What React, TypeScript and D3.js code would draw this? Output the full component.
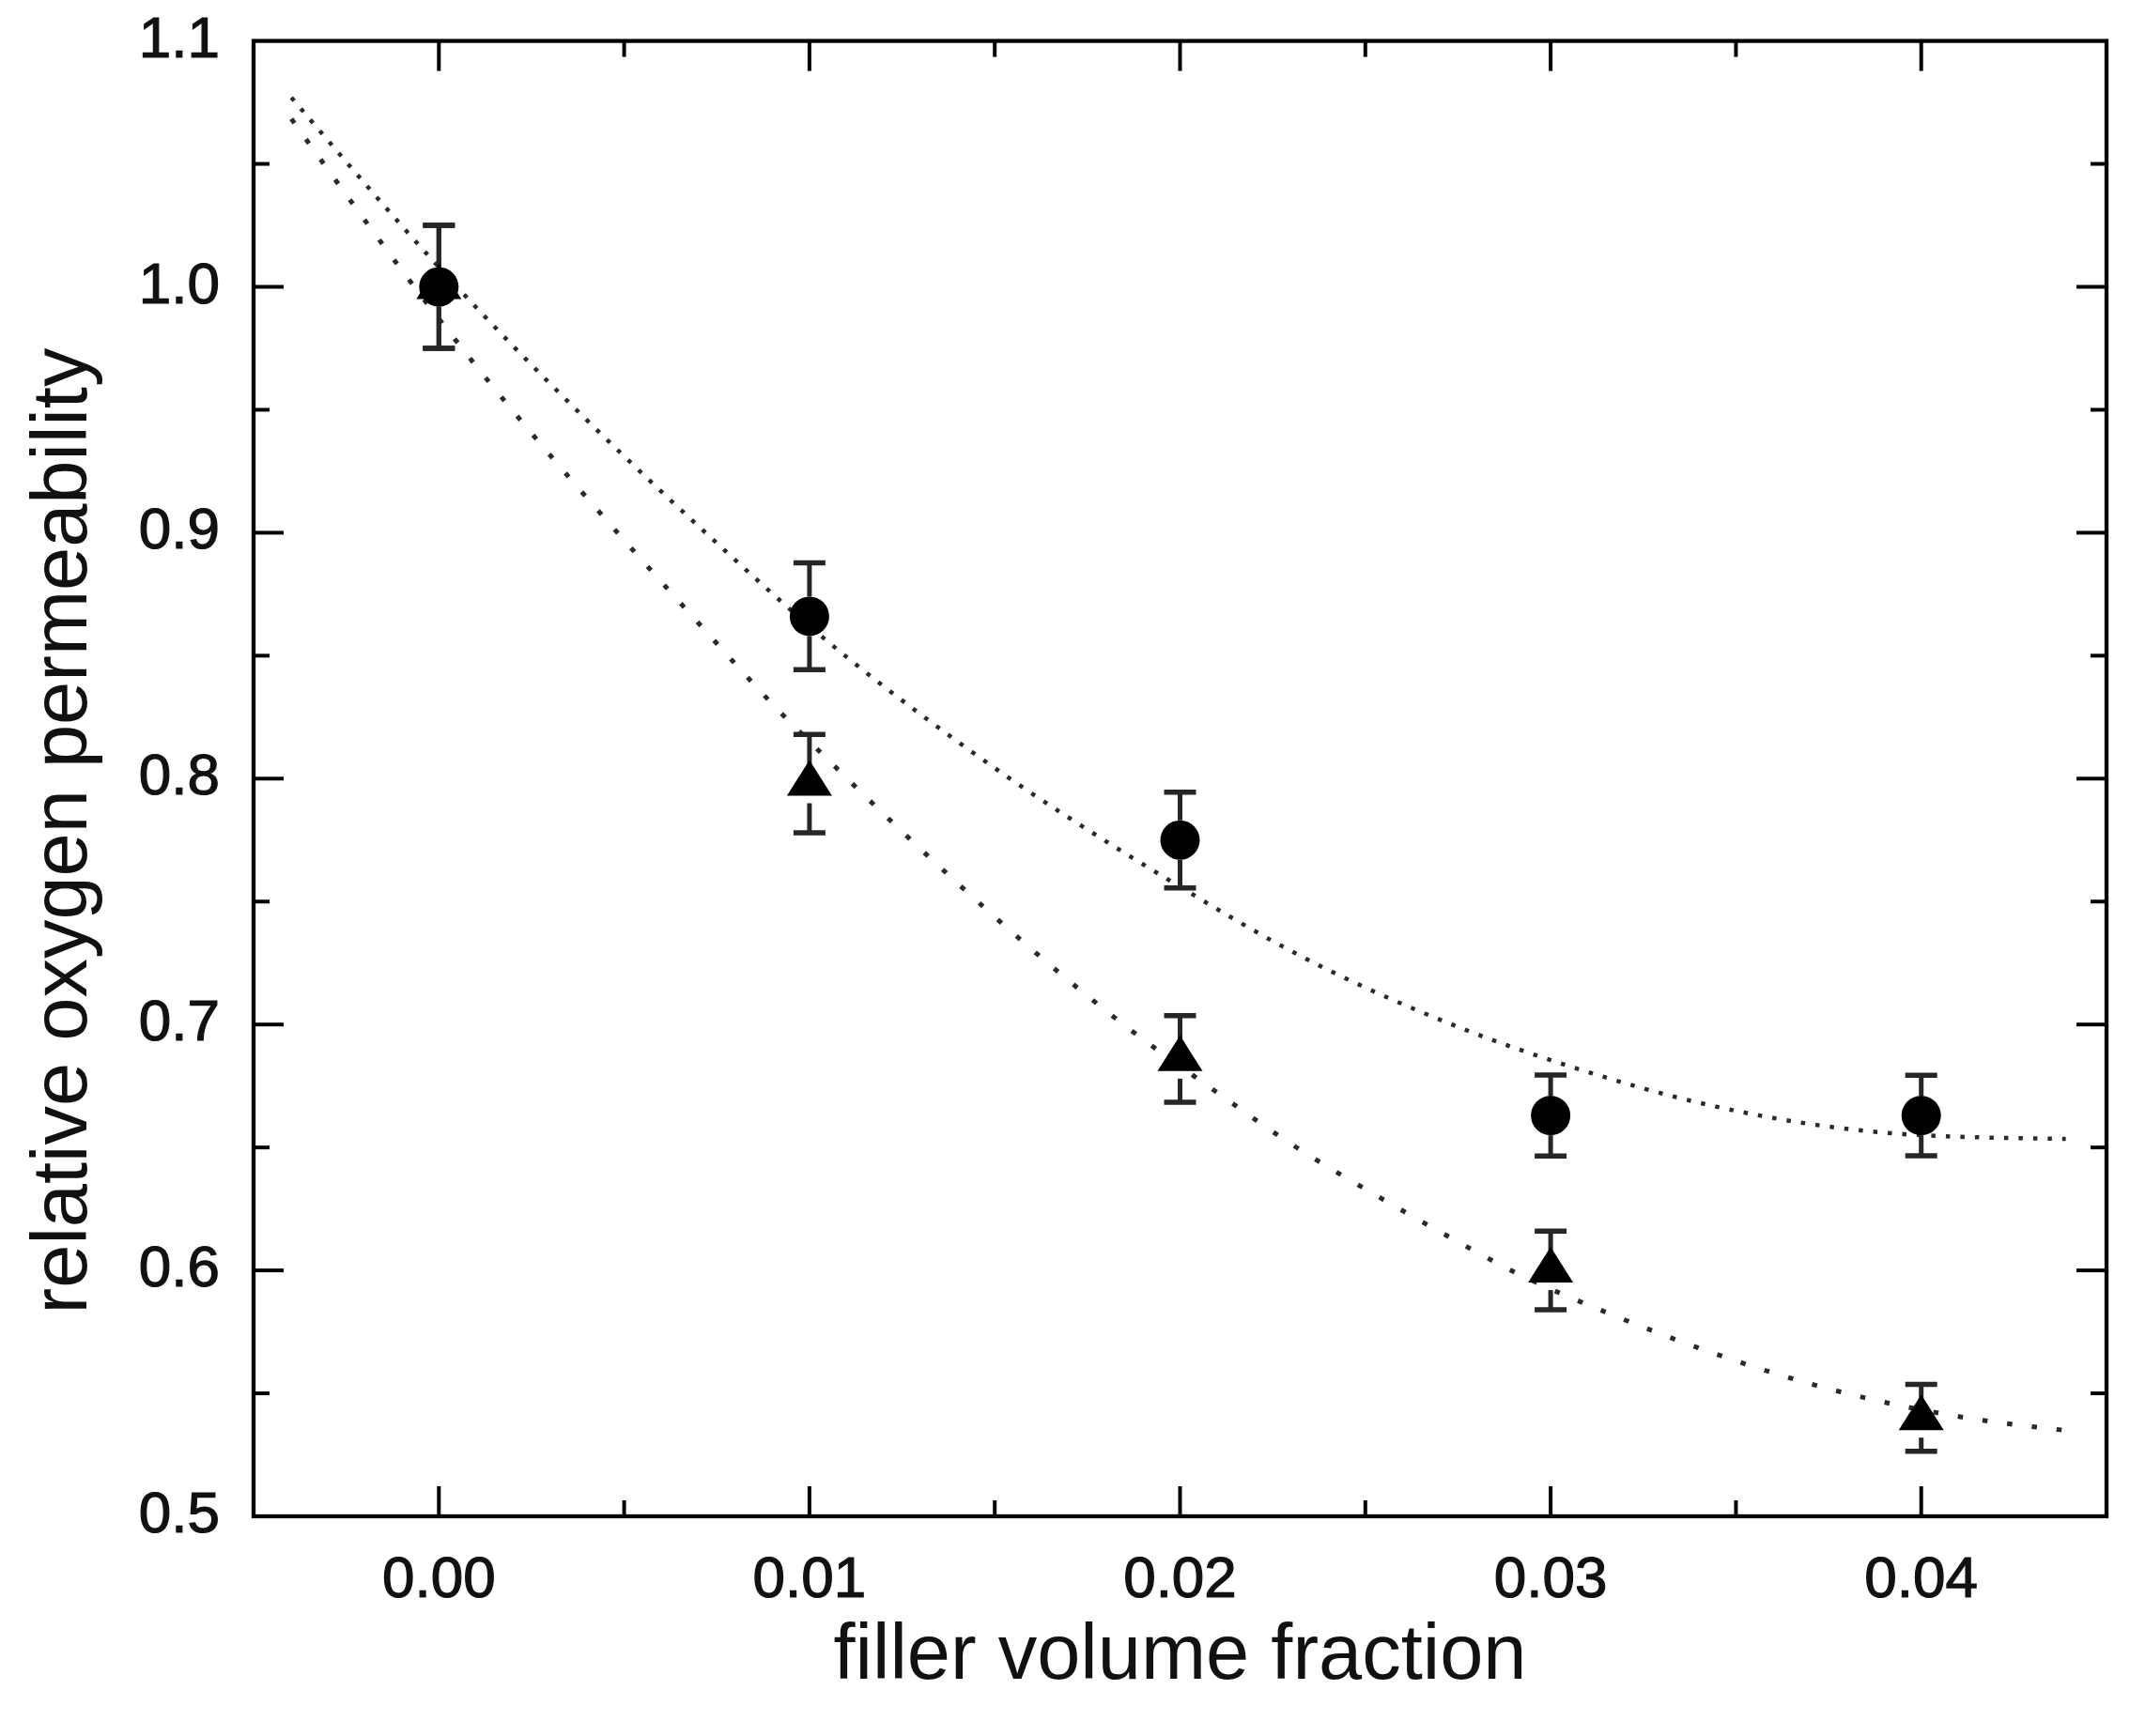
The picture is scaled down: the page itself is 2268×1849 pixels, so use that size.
import React from "react";
import * as d3 from "d3";

// ---- data ----
const fillerFractions = [0, 0.01, 0.02, 0.03, 0.04];
const circleValues = [1.0, 0.866, 0.775, 0.663, 0.663];
const circleErrors = [0.025, 0.0217, 0.0195, 0.0165, 0.0164];
const triangleValues = [1.0, 0.798, 0.686, 0.6, 0.54];
const triangleErrors = [0.025, 0.02, 0.0176, 0.016, 0.0136];

// fitted curves
const upperFitX = [-0.00398, 0, 0.00773, 0.01, 0.01403, 0.02, 0.02286, 0.02764, 0.03064, 0.03432, 0.03833, 0.04, 0.0439];
const upperFitY = [1.077, 1.008, 0.8926, 0.862, 0.8147, 0.756, 0.731, 0.6982, 0.6824, 0.6671, 0.657, 0.655, 0.6535];
const lowerFitX = [-0.00398, 0, 0.00708, 0.00929, 0.01048, 0.01221, 0.0194, 0.02066, 0.02303, 0.02544, 0.0273, 0.02908, 0.03149, 0.03859, 0.04104, 0.04399];
const lowerFitY = [1.0683, 0.987, 0.862, 0.8258, 0.808, 0.7826, 0.6895, 0.676, 0.6511, 0.6292, 0.6133, 0.5989, 0.583, 0.5478, 0.5405, 0.5348];

const xMajorTicks = [0, 0.01, 0.02, 0.03, 0.04];
const xMinorTicks = [0.005, 0.015, 0.025, 0.035];
const yMajorTicks = [0.5, 0.6, 0.7, 0.8, 0.9, 1.0, 1.1];
const yMinorTicks = [0.55, 0.65, 0.75, 0.85, 0.95, 1.05];

const xTitle = "filler volume fraction";
const yTitle = "relative oxygen permeability";

const W = 2268;
const H = 1849;
const LEFT = 270;
const RIGHT = 2243;
const TOP = 43.6;
const BOTTOM = 1615;
const FONT = "'Liberation Sans', Arial, Helvetica, sans-serif";

export default function App() {
  const x = d3.scaleLinear().domain([-0.005, 0.045]).range([LEFT, RIGHT]);
  const y = d3.scaleLinear().domain([0.5, 1.1]).range([BOTTOM, TOP]);

  const line = d3
    .line<[number, number]>()
    .x((d) => x(d[0]))
    .y((d) => y(d[1]))
    .curve(d3.curveMonotoneX);

  const upperPath = line(upperFitX.map((v, i) => [v, upperFitY[i]]) as [number, number][]) || "";
  const lowerPath = line(lowerFitX.map((v, i) => [v, lowerFitY[i]]) as [number, number][]) || "";

  const majorLen = 32;
  const minorLen = 17;
  const tickW = 4;
  const markerR = 21;
  const capHalf = 17;

  const errorBar = (xv: number, v: number, e: number, key: string) => {
    const cx = x(xv);
    const cy = y(v);
    const yt = y(v + e);
    const yb = y(v - e);
    return (
      <g key={key} stroke="#262626" strokeWidth={5}>
        {yt < cy - markerR && <line x1={cx} x2={cx} y1={yt} y2={cy - markerR} />}
        {yb > cy + markerR && <line x1={cx} x2={cx} y1={cy + markerR} y2={yb} />}
        <line x1={cx - capHalf} x2={cx + capHalf} y1={yt} y2={yt} strokeWidth={5.5} />
        <line x1={cx - capHalf} x2={cx + capHalf} y1={yb} y2={yb} strokeWidth={5.5} />
      </g>
    );
  };

  const triPath = (cx: number, cy: number) => {
    const hw = 24;
    return `M${cx},${cy - 25}L${cx + hw},${cy + 13}L${cx - hw},${cy + 13}Z`;
  };

  return (
    <svg
      width={W}
      height={H}
      viewBox={`0 0 ${W} ${H}`}
      style={{ position: "absolute", left: 0, top: 0, display: "block", background: "#fff" }}
    >
      <rect x={0} y={0} width={W} height={H} fill="#fff" />

      {/* fit curves */}
      <path d={upperPath} fill="none" stroke="#2a2a2a" strokeWidth={4.5} strokeDasharray="4.5 11" />
      <path d={lowerPath} fill="none" stroke="#2a2a2a" strokeWidth={5} strokeDasharray="5.5 21" />

      {/* error bars */}
      {fillerFractions.map((f, i) => errorBar(f, triangleValues[i], triangleErrors[i], `te${i}`))}
      {fillerFractions.map((f, i) => errorBar(f, circleValues[i], circleErrors[i], `ce${i}`))}

      {/* markers */}
      {fillerFractions.map((f, i) => (
        <circle key={`c${i}`} cx={x(f)} cy={y(circleValues[i])} r={markerR} fill="#000" />
      ))}
      {fillerFractions.map((f, i) => (
        <path key={`t${i}`} d={triPath(x(f), y(triangleValues[i]))} fill="#000" />
      ))}

      {/* frame */}
      <rect x={LEFT} y={TOP} width={RIGHT - LEFT} height={BOTTOM - TOP} fill="none" stroke="#000" strokeWidth={4.3} />

      {/* ticks on all four sides, pointing inward */}
      <g stroke="#000" strokeWidth={tickW}>
        {xMajorTicks.map((t) => (
          <g key={`xM${t}`}>
            <line x1={x(t)} x2={x(t)} y1={BOTTOM} y2={BOTTOM - majorLen} />
            <line x1={x(t)} x2={x(t)} y1={TOP} y2={TOP + majorLen} />
          </g>
        ))}
        {xMinorTicks.map((t) => (
          <g key={`xm${t}`}>
            <line x1={x(t)} x2={x(t)} y1={BOTTOM} y2={BOTTOM - minorLen} />
            <line x1={x(t)} x2={x(t)} y1={TOP} y2={TOP + minorLen} />
          </g>
        ))}
        {yMajorTicks.slice(1, -1).map((t) => (
          <g key={`yM${t}`}>
            <line x1={LEFT} x2={LEFT + majorLen} y1={y(t)} y2={y(t)} />
            <line x1={RIGHT} x2={RIGHT - majorLen} y1={y(t)} y2={y(t)} />
          </g>
        ))}
        {yMinorTicks.map((t) => (
          <g key={`ym${t}`}>
            <line x1={LEFT} x2={LEFT + minorLen} y1={y(t)} y2={y(t)} />
            <line x1={RIGHT} x2={RIGHT - minorLen} y1={y(t)} y2={y(t)} />
          </g>
        ))}
      </g>

      {/* tick labels */}
      <g fontFamily={FONT} fontSize={62} fill="#111" stroke="#111" strokeWidth={1.2}>
        {xMajorTicks.map((t) => (
          <text key={`xl${t}`} x={x(t)} y={1701} textAnchor="middle">
            {d3.format(".2f")(t)}
          </text>
        ))}
        {yMajorTicks.map((t) => (
          <text key={`yl${t}`} x={234} y={y(t) + 17} textAnchor="end">
            {d3.format(".1f")(t)}
          </text>
        ))}
      </g>

      {/* axis titles */}
      <text x={(LEFT + RIGHT) / 2} y={1788} textAnchor="middle" fontFamily={FONT} fontSize={83} fill="#111">
        {xTitle}
      </text>
      <text
        transform={`translate(92, 885) rotate(-90)`}
        textAnchor="middle"
        fontFamily={FONT}
        fontSize={83}
        fill="#111"
      >
        {yTitle}
      </text>
    </svg>
  );
}
